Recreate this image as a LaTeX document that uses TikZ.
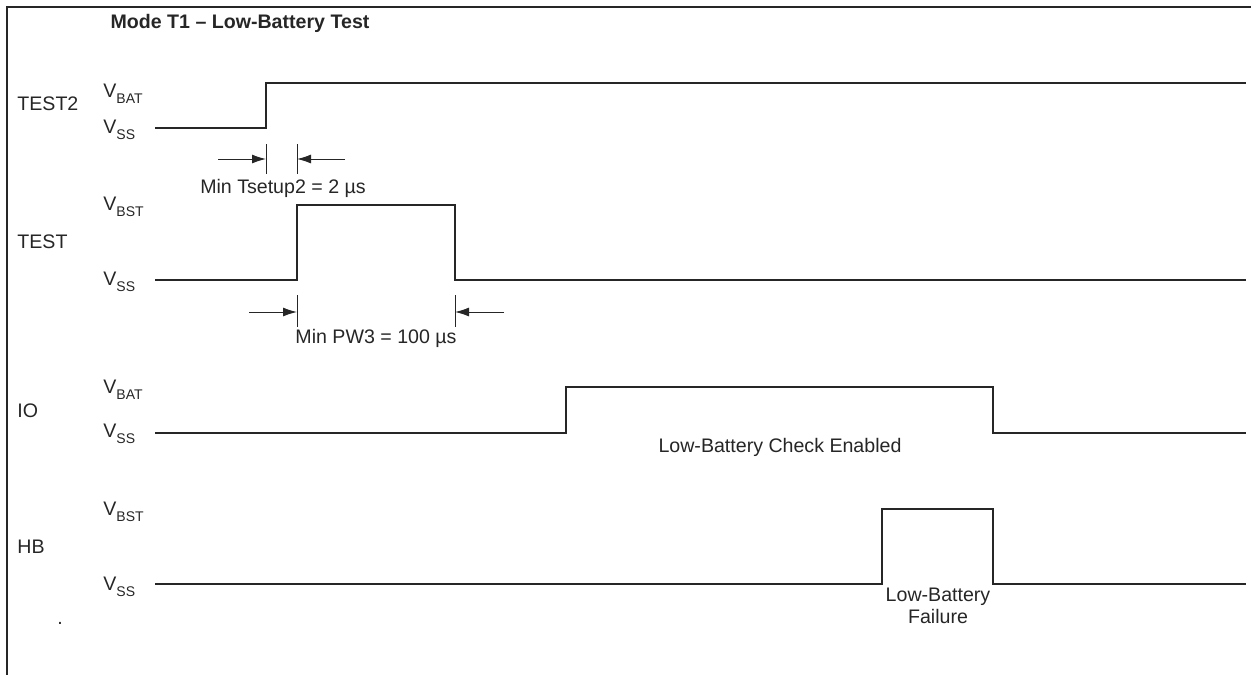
\documentclass[tikz,border=0pt]{standalone}
\usepackage{fontspec}
\setmainfont{Liberation Sans}
\usepackage{tikz}
\usetikzlibrary{arrows.meta}
\definecolor{ink}{HTML}{262626}
\newcommand\lvlv[1]{V\raisebox{-3pt}{\fontsize{7}{8}\selectfont #1}}
\tikzset{
>={Latex[length=7pt,width=4.5pt]}, % filled heads for the timing marks
every node/.style={inner sep=0pt, text=ink, font=\fontsize{9.8}{11}\selectfont},
sig/.style={draw=ink, line width=0.9pt}, % waveform
tickline/.style={draw=ink, line width=0.5pt},
dim/.style={->, draw=ink, line width=0.5pt},
lvl/.style={anchor=base west},
sname/.style={anchor=base west},
}

\begin{document}
\begin{tikzpicture}[x=0.5pt,y=-0.5pt]
  \useasboundingbox (0,0) rectangle (1251,675);
  % frame, top and left only
  \draw[ink, line width=1.2pt] (1251,7) -- (7,7) -- (7,675);
  \node[anchor=base, font=\bfseries\fontsize{9.8}{11}\selectfont] (title) at (240,28) {Mode T1 – Low-Battery Test};

  % TEST2
  \node[sname] (ntest2) at (17,110) {TEST2};
  \node[lvl] (t2hi) at (103,97) {\lvlv{BAT}};
  \node[lvl] (t2lo) at (103,133) {\lvlv{SS}};
  \draw[sig] (155,128) -- (266,128) -- (266,83) -- (1246,83);
  \coordinate (ts1a) at (266,144); \coordinate (ts1b) at (266,174);
  \coordinate (ts2a) at (297,144); \coordinate (ts2b) at (297,174);
  \draw[tickline] (ts1a) -- (ts1b);
  \draw[tickline] (ts2a) -- (ts2b);
  \coordinate (tsl) at (218,159); \coordinate (tsr) at (345,159);
  \draw[dim] (tsl) -- (ts1a |- tsl);
  \draw[dim] (tsr) -- (ts2a |- tsr);
  \node[anchor=base] (tsetup) at (283,193) {Min Tsetup2 = 2 µs};

  % TEST
  \node[sname] (ntest) at (17,248) {TEST};
  \node[lvl] (thi) at (103,210) {\lvlv{BST}};
  \node[lvl] (tlo) at (103,285) {\lvlv{SS}};
  \draw[sig] (155,280) -- (297,280) -- (297,205) -- (455,205) -- (455,280) -- (1246,280);
  \coordinate (pw1a) at (297,295); \coordinate (pw1b) at (297,327);
  \coordinate (pw2a) at (455,295); \coordinate (pw2b) at (455,327);
  \draw[tickline] (pw1a) -- (pw1b);
  \draw[tickline] (pw2a) -- (pw2b);
  \coordinate (pwl) at (249,312); \coordinate (pwr) at (504,312);
  \draw[dim] (pwl) -- (pw1a |- pwl);
  \draw[dim] (pwr) -- (pw2a |- pwr);
  \node[anchor=base] (pw3) at (376,343) {Min PW3 = 100 µs};

  % IO
  \node[sname] (nio) at (17,417) {IO};
  \node[lvl] (iohi) at (103,393) {\lvlv{BAT}};
  \node[lvl] (iolo) at (103,437) {\lvlv{SS}};
  \draw[sig] (155,433) -- (566,433) -- (566,387) -- (993,387) -- (993,433) -- (1246,433);
  \node[anchor=base] (chk) at (780,452) {Low-Battery Check Enabled};

  % HB
  \node[sname] (nhb) at (17,553) {HB};
  \node[lvl] (hbhi) at (103,515) {\lvlv{BST}};
  \node[lvl] (hblo) at (103,590) {\lvlv{SS}};
  \draw[sig] (155,584) -- (882,584) -- (882,509) -- (993,509) -- (993,584) -- (1246,584);
  \node[anchor=base, align=center] (fail) at (938,623) {Low-Battery\\Failure};
  \node[anchor=base] (dot) at (60,624) {.};
\end{tikzpicture}
\end{document}
